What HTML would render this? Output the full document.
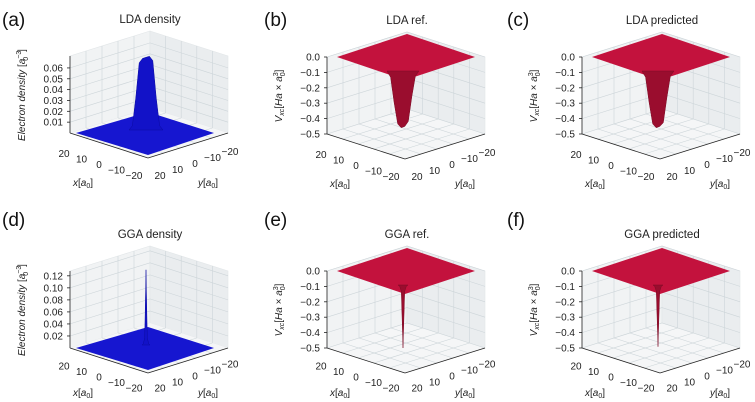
<!DOCTYPE html>
<html><head><meta charset="utf-8">
<style>
html,body{margin:0;padding:0;background:#fff;}
svg{display:block;font-family:"Liberation Sans","DejaVu Sans",sans-serif;}
</style></head>
<body>
<svg id="fig" width="755" height="402" viewBox="0 0 755 402" xmlns="http://www.w3.org/2000/svg"></svg>
<script>
// ---- data ----
const panelLetters = ['(a)','(b)','(c)','(d)','(e)','(f)'];
const panelTitles = ['LDA density','LDA ref.','LDA predicted','GGA density','GGA ref.','GGA predicted'];
const panelKinds = ['density','vxc','vxc','density','vxc','vxc'];
const densityTicksLDA = [0.01,0.02,0.03,0.04,0.05,0.06];
const densityTicksGGA = [0.02,0.04,0.06,0.08,0.10,0.12];
const vxcTicks = [0.0,-0.1,-0.2,-0.3,-0.4,-0.5];
const xyTicks = ['20','10','0','\u221210','\u221220'];
// surface profile samples along screen-horizontal through the center (value per sample)
const ldaDensityProfile = [0,0.004,0.03,0.062,0.066,0.067,0.068,0.064,0.03,0.004,0];
const ggaDensityProfile = [0,0.002,0.012,0.125,0.012,0.002,0];
const ldaRefProfile = [0,-0.05,-0.25,-0.42,-0.45,-0.44,-0.4,-0.2,-0.04,0];
const ldaPredProfile = [0,-0.05,-0.25,-0.42,-0.45,-0.44,-0.41,-0.21,-0.04,0];
const ggaRefProfile = [0,-0.01,-0.05,-0.5,-0.05,-0.01,0];
const ggaPredProfile = [0,-0.01,-0.05,-0.49,-0.05,-0.01,0];

const svg = document.getElementById('fig');
const NS = 'http://www.w3.org/2000/svg';
function mk(tag, attrs, parent){const e=document.createElementNS(NS,tag);for(const k in attrs)e.setAttribute(k,attrs[k]);(parent||svg).appendChild(e);return e;}
function pts(a){return a.map(p=>p[0].toFixed(1)+','+p[1].toFixed(1)).join(' ');}

const panels = [
 {ox:70, oy:133, lx:2, ly:26, zt:densityTicksLDA, zmin:0, zmax:0.071, prof:ldaDensityProfile, pw:34, lab:49},
 {ox:327,oy:134, lx:264,ly:26, zt:vxcTicks, zmin:-0.5, zmax:0.0, prof:ldaRefProfile, pw:32, lab:49},
 {ox:582,oy:134, lx:507,ly:26, zt:vxcTicks, zmin:-0.5, zmax:0.0, prof:ldaPredProfile, pw:32, lab:49},
 {ox:70, oy:348, lx:2, ly:226, zt:densityTicksGGA, zmin:0, zmax:0.128, prof:ggaDensityProfile, pw:8, lab:44},
 {ox:327,oy:348, lx:264,ly:226, zt:vxcTicks, zmin:-0.5, zmax:0.0, prof:ggaRefProfile, pw:10, lab:44},
 {ox:582,oy:348, lx:507,ly:226, zt:vxcTicks, zmin:-0.5, zmax:0.0, prof:ggaPredProfile, pw:10, lab:44}
];
const H = 77;

panels.forEach((p,i)=>{
  const g = mk('g',{});
  
  
  const ox=p.ox, oy=p.oy;
  const L=[ox,oy], B=[ox+80,oy-25], R=[ox+158,oy], F=[ox+78,oy+25];
  const zy = v => oy - (v-p.zmin)/(p.zmax-p.zmin)*H;
  const up = (pt,h)=>[pt[0],pt[1]-h];
  const lp = mk('polygon',{points:pts([L,B,up(B,H),up(L,H)]),fill:'#f1f3f4',stroke:'#e2e6e8','stroke-width':0.6},g);
   
  const rp = mk('polygon',{points:pts([B,R,up(R,H),up(B,H)]),fill:'#eaedef',stroke:'#e2e6e8','stroke-width':0.6},g);
   
  const fp = mk('polygon',{points:pts([L,F,R,B]),fill:'#f5f6f7'},g);
   
  const gc='#cdd5d9';
  for(let k=1;k<5;k++){
    const t=k/5;
    const a=[L[0]+(B[0]-L[0])*t, L[1]+(B[1]-L[1])*t];
    mk('line',{x1:a[0],y1:a[1],x2:a[0],y2:a[1]-H,stroke:gc,'stroke-width':0.6},g);
    const b=[B[0]+(R[0]-B[0])*t, B[1]+(R[1]-B[1])*t];
    mk('line',{x1:b[0],y1:b[1],x2:b[0],y2:b[1]-H,stroke:gc,'stroke-width':0.6},g);
    const c=[L[0]+(F[0]-L[0])*t, L[1]+(F[1]-L[1])*t];
    mk('line',{x1:c[0],y1:c[1],x2:c[0]+(B[0]-L[0]),y2:c[1]+(B[1]-L[1]),stroke:gc,'stroke-width':0.6},g);
    const d=[F[0]+(R[0]-F[0])*t, F[1]+(R[1]-F[1])*t];
    mk('line',{x1:d[0],y1:d[1],x2:d[0]+(L[0]-F[0]),y2:d[1]+(L[1]-F[1]),stroke:gc,'stroke-width':0.6},g);
  }
  p.zt.forEach(v=>{
    const h = oy-zy(v);
    mk('polyline',{points:pts([up(L,h),up(B,h),up(R,h)]),fill:'none',stroke:gc,'stroke-width':0.6},g);
  });
  mk('line',{x1:L[0],y1:L[1],x2:L[0],y2:L[1]-H,stroke:'#222','stroke-width':0.8},g);
  mk('line',{x1:L[0],y1:L[1],x2:F[0],y2:F[1],stroke:'#222','stroke-width':0.8},g);
  mk('line',{x1:F[0],y1:F[1],x2:R[0],y2:R[1],stroke:'#222','stroke-width':0.8},g);
  p.zt.forEach(v=>{
    const y=zy(v);
    mk('line',{x1:ox-3,y1:y,x2:ox,y2:y,stroke:'#222','stroke-width':0.8},g);
    const t=mk('text',{x:ox-7,y:y+3.5,'font-size':10,'text-anchor':'end',fill:'#222'},g);
    t.textContent = p.zmin<0 ? (v===0?'0.0':'\u2212'+Math.abs(v).toFixed(1)) : v.toFixed(2);
     
  });
  const sh = p.lab-49;
  xyTicks.forEach((s,k)=>{
    const t=k/4;
    const tx=mk('text',{x:ox-6+70*t,y:oy+24+sh/2+22*t,'font-size':10,'text-anchor':'middle',fill:'#222'},g);
    tx.textContent=s;  
    const ty=mk('text',{x:ox+90+70*t,y:oy+46+sh/2-24*t,'font-size':10,'text-anchor':'middle',fill:'#222'},g);
    ty.textContent=s;  
  });
  const xl=mk('text',{x:ox+13,y:oy+p.lab+4,'font-size':10,'text-anchor':'middle',fill:'#222'},g);
  xl.innerHTML='<tspan font-style="italic">x</tspan>[<tspan font-style="italic">a</tspan><tspan font-size="7" dy="2">0</tspan><tspan dy="-2">]</tspan>';
   
  const yl=mk('text',{x:ox+138,y:oy+p.lab+4,'font-size':10,'text-anchor':'middle',fill:'#222'},g);
  yl.innerHTML='<tspan font-style="italic">y</tspan>[<tspan font-style="italic">a</tspan><tspan font-size="7" dy="2">0</tspan><tspan dy="-2">]</tspan>';
   
  const zcx=ox-45, zcy=oy-38;
  const zl=mk('text',{x:zcx,y:zcy,'font-size':10,'text-anchor':'middle',fill:'#222',transform:'rotate(-90 '+zcx+' '+zcy+')'},g);
  if(p.zmin<0) zl.innerHTML='<tspan font-style="italic">V</tspan><tspan font-size="7" dy="2" font-style="italic">xc</tspan><tspan dy="-2">[</tspan><tspan font-style="italic">Ha</tspan> × <tspan font-style="italic">a</tspan><tspan font-size="7" dy="-4">3</tspan><tspan font-size="7" dx="-4" dy="7">0</tspan><tspan dy="-3">]</tspan>';
  else zl.innerHTML='<tspan font-style="italic">Electron density</tspan> [<tspan font-style="italic">a</tspan><tspan font-size="7" dy="-4">−3</tspan><tspan font-size="7" dx="-10" dy="7">0</tspan><tspan dy="-3" dx="5">]</tspan>';
   
  const tt=mk('text',{x:ox+80,y:oy-110,'font-size':11.5,'text-anchor':'middle',fill:'#222'},g);
  tt.textContent=panelTitles[i];  
  const lt=mk('text',{x:p.lx,y:p.ly,'font-size':19,fill:'#111'},g);
  lt.textContent=panelLetters[i];  
  const cx = ox+76;
  const n=p.prof.length;
  const profPts = p.prof.map((v,k)=>[cx-p.pw/2+p.pw*k/(n-1), 0, v]);
  if(panelKinds[i]==='density'){
    const s=mk('polygon',{points:pts([[L[0]+6,L[1]],[F[0],F[1]-3],[R[0]-14,R[1]],[B[0]-2,B[1]+4]]),fill:'#1616d0'},g);
     
    const yb = oy-3;
    const poly = profPts.map(q=>[q[0], yb-(q[2]-p.zmin)/(p.zmax-p.zmin)*H]);
    const pk=mk('polygon',{points:pts(poly),fill:'#1212c8',stroke:'#0a0aa0','stroke-width':0.5},g);
     
  } else {
    const topY=zy(0);
    const TL=up(L,H),TB=up(B,H),TR=up(R,H),TF=up(F,H);
    const s=mk('polygon',{points:pts([[TL[0]+10,TL[1]],[TB[0],TB[1]+2],[TR[0]-10,TR[1]],[TF[0],TF[1]-2]]),fill:'#c3123d'},g);
     
    const y0 = topY+14;
    const poly = profPts.map(q=>[q[0], y0+(0-q[2])/(p.zmax-p.zmin)*(H-14)]);
    const w=mk('polygon',{points:pts(poly),fill:'#9a0d2e',stroke:'#7a0a24','stroke-width':0.5},g);
     
  }
});
</script>
</body></html>
